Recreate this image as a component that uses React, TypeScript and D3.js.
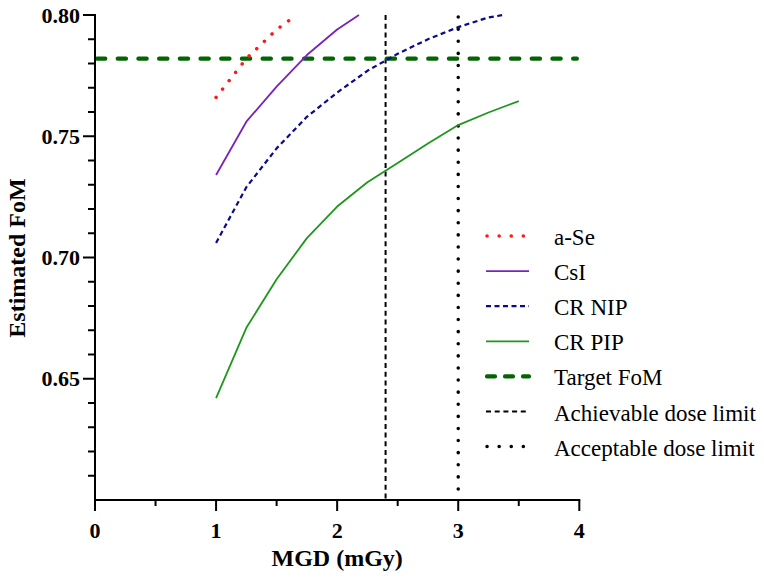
import React from "react";
import * as d3 from "d3";

const aSeX = [1.0, 1.25, 1.5, 1.65];
const aSeY = [0.766, 0.782, 0.794, 0.7995];
const csiX = [1.0, 1.25, 1.5, 1.75, 2.0, 2.18];
const csiY = [0.734, 0.756, 0.7705, 0.7835, 0.794, 0.8];
const nipX = [1.0, 1.25, 1.5, 1.75, 2.0, 2.25, 2.5, 2.75, 3.0, 3.25, 3.37];
const nipY = [0.706, 0.729, 0.745, 0.758, 0.768, 0.777, 0.784, 0.79, 0.795, 0.799, 0.8];
const pipX = [1.0, 1.25, 1.5, 1.75, 2.0, 2.25, 2.5, 2.75, 3.0, 3.25, 3.5];
const pipY = [0.642, 0.671, 0.691, 0.708, 0.721, 0.731, 0.739, 0.747, 0.7546, 0.7598, 0.7645];
const targetFoM = 0.782;
const achievableDose = 2.4;
const acceptableDose = 3.0;
const xMajorTicks = [0, 1, 2, 3, 4];
const xMinorTicks = [0.5, 1.5, 2.5, 3.5];
const yMajorTicks = [0.65, 0.7, 0.75, 0.8];
const yMinorTicks = [0.61, 0.62, 0.63, 0.64, 0.66, 0.67, 0.68, 0.69, 0.71, 0.72, 0.73, 0.74, 0.76, 0.77, 0.78, 0.79];

const legendLabels = ["a-Se", "CsI", "CR NIP", "CR PIP", "Target FoM", "Achievable dose limit", "Acceptable dose limit"];

const FONT = '"Liberation Serif", "Times New Roman", Times, "DejaVu Serif", serif';

export default function App() {
  const W = 764, H = 579;
  const x = d3.scaleLinear().domain([0, 4]).range([95, 579.3]);
  const y = d3.scaleLinear().domain([0.6, 0.8]).range([500, 15]);
  const line = d3.line<[number, number]>().x(d => x(d[0])).y(d => y(d[1]));
  const zip = (xs: number[], ys: number[]) => xs.map((v, i) => [v, ys[i]] as [number, number]);

  const styles = [
    { stroke: "#ff1a1a", width: 3.5, dash: "0.1 10.5", cap: "round" },
    { stroke: "#7b22b8", width: 1.8, dash: undefined, cap: "butt" },
    { stroke: "#0a0a8a", width: 2.2, dash: "5 3.5", cap: "butt" },
    { stroke: "#1f961f", width: 1.8, dash: undefined, cap: "butt" },
    { stroke: "#046404", width: 4.2, dash: "8.3 12.4", cap: "round" },
    { stroke: "#000", width: 2, dash: "5 3.7", cap: "butt" },
    { stroke: "#000", width: 3.5, dash: "0.1 12", cap: "round" },
  ];

  const series = [zip(aSeX, aSeY), zip(csiX, csiY), zip(nipX, nipY), zip(pipX, pipY)];
  const tf = { fontFamily: FONT };

  return (
    <svg width={W} height={H} style={{ position: "absolute", left: 0, top: 0, background: "#fff", fontFamily: FONT }}>
      <rect width={W} height={H} fill="#fff" />
      <line x1={x(achievableDose)} x2={x(achievableDose)} y1={y(0.8)} y2={y(0.6)} stroke={styles[5].stroke} strokeWidth={styles[5].width} strokeDasharray={styles[5].dash} />
      <line x1={x(acceptableDose)} x2={x(acceptableDose)} y1={y(0.8) + 2} y2={y(0.6)} stroke={styles[6].stroke} strokeWidth={styles[6].width} strokeDasharray={styles[6].dash} strokeLinecap="round" />
      <line x1={x(0) + 2} x2={x(3.98)} y1={y(targetFoM)} y2={y(targetFoM)} stroke={styles[4].stroke} strokeWidth={styles[4].width} strokeDasharray={styles[4].dash} strokeLinecap="round" />
      {series.map((s, i) => (
        <path key={i} d={line(s) || ""} fill="none" stroke={styles[i].stroke} strokeWidth={styles[i].width}
          strokeDasharray={styles[i].dash} strokeLinecap={styles[i].cap as any} strokeLinejoin="round" />
      ))}
      <line x1={x(0)} x2={x(0)} y1={y(0.8) - 1} y2={y(0.6) + 1} stroke="#000" strokeWidth={2} />
      <line x1={x(0) - 1} x2={x(4) + 1} y1={y(0.6)} y2={y(0.6)} stroke="#000" strokeWidth={2} />
      {yMajorTicks.map(t => (
        <g key={"ym" + t}>
          <line x1={x(0) - 12} x2={x(0)} y1={y(t)} y2={y(t)} stroke="#000" strokeWidth={2} />
          <text style={tf} x={x(0) - 15} y={y(t)} dy="0.35em" textAnchor="end" fontWeight="bold" fontSize={22}>{t.toFixed(2)}</text>
        </g>
      ))}
      {yMinorTicks.map(t => (
        <line key={"yn" + t} x1={x(0) - 7} x2={x(0)} y1={y(t)} y2={y(t)} stroke="#000" strokeWidth={2} />
      ))}
      {xMajorTicks.map(t => (
        <g key={"xm" + t}>
          <line x1={x(t)} x2={x(t)} y1={y(0.6)} y2={y(0.6) + 11} stroke="#000" strokeWidth={2} />
          <text style={tf} x={x(t)} y={538} textAnchor="middle" fontWeight="bold" fontSize={22}>{t}</text>
        </g>
      ))}
      {xMinorTicks.map(t => (
        <line key={"xn" + t} x1={x(t)} x2={x(t)} y1={y(0.6)} y2={y(0.6) + 6} stroke="#000" strokeWidth={2} />
      ))}
      <text style={tf} x={x(2)} y={566} textAnchor="middle" fontWeight="bold" fontSize={24}>MGD (mGy)</text>
      <text style={tf} transform={`translate(25,${258}) rotate(-90)`} textAnchor="middle" fontWeight="bold" fontSize={24}>Estimated FoM</text>
      {legendLabels.map((lab, i) => {
        const base = 245 + i * 35.1;
        const ly = base - 9;
        const st = styles[i];
        return (
          <g key={lab}>
            <line x1={st.cap === "round" ? 487 : 486} x2={529} y1={ly} y2={ly} stroke={st.stroke} strokeWidth={i === 0 || i === 6 ? 3.5 : st.width}
              strokeDasharray={i === 0 || i === 6 ? "0.1 12" : i === 4 ? "8 10" : st.dash} strokeLinecap={st.cap as any} />
            <text style={tf} x={554} y={base} fontSize={23}>{lab}</text>
          </g>
        );
      })}
    </svg>
  );
}
